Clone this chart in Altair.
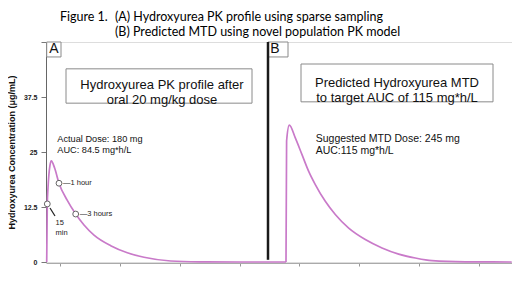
import altair as alt
import pandas as pd

# ---------------- data ----------------
# Panel A: hydroxyurea PK profile (time in h, concentration in ug/mL)
A_TIME = [0, 0.06, 0.13, 0.33, 0.46, 0.8, 1.23, 2.06, 2.9, 3.73, 4.73, 6.4, 8.06, 9.73, 12.4, 15.3, 19.3, 23.93]
A_CONC = [0, 13.2, 16.8, 22.0, 23.0, 21.3, 17.9, 14.0, 10.9, 8.4, 6.1, 3.7, 2.1, 1.07, 0.23, 0.05, 0, 0]

# Panel B: predicted profile at the MTD
B_TIME = [23.93, 23.99, 24.26, 24.86, 25.53, 26.2, 26.86, 27.86, 28.86, 30.2, 31.86, 33.53, 35.2, 36.86, 38.53, 41.86, 46.5]
B_CONC = [0, 27.5, 31.1, 28.2, 24.4, 20.6, 17.6, 13.8, 10.8, 7.7, 5.1, 3.2, 1.8, 0.9, 0.3, 0.05, 0]

# sparse samples
SAMPLE_TIME = [0.06, 1.23, 2.9]
SAMPLE_CONC = [13.2, 17.9, 10.9]
SAMPLE_LABEL = ["", "\u20141 hour", "\u20143 hours"]

Y_TICKS = [0, 12.5, 25, 37.5, 50]
X_TICKS = [1.3, 7.3, 13.3, 19.3, 25.2, 31.2, 37.2, 43.2]

PANEL_LABELS = ["A", "B"]
BOX_TITLES = ["Hydroxyurea PK profile after\noral 20 mg/kg dose",
              "Predicted Hydroxyurea MTD\nto target AUC of 115 mg*h/L"]
NOTES_A = ["Actual Dose: 180 mg", "AUC: 84.5 mg*h/L"]
NOTES_B = ["Suggested MTD Dose: 245 mg", "AUC:115 mg*h/L"]

# ---------------- chart ----------------
LINE = "#c97ac9"
FONT = "Liberation Sans"

X_DOMAIN = [-0.07, 46.53]
Y_DOMAIN = [0, 50]

xs = alt.Scale(domain=X_DOMAIN, nice=False, zero=False)
ys = alt.Scale(domain=Y_DOMAIN, nice=False)

curve = pd.DataFrame({
    "t": A_TIME + B_TIME,
    "c": A_CONC + B_CONC,
    "panel": ["A"] * len(A_TIME) + ["B"] * len(B_TIME),
})
curve["order"] = range(len(curve))

samples = pd.DataFrame({"t": SAMPLE_TIME, "c": SAMPLE_CONC, "label": SAMPLE_LABEL})

base_x = alt.X("t:Q", scale=xs, axis=alt.Axis(
    values=X_TICKS, labels=False, title=None, grid=False, tickSize=3,
    domainColor="#aaaaaa", tickColor="#999999", offset=1))
base_y = alt.Y("c:Q", scale=ys, axis=alt.Axis(
    values=Y_TICKS, grid=False, title="Hydroxyurea Concentration (\u03bcg/mL)",
    labelExpr="datum.value == 50 ? '' : toString(datum.value)",
    labelFont=FONT, labelFontSize=7, labelFontWeight="bold", labelColor="#222222",
    labelPadding=4, tickSize=5, tickColor="#777777", domainColor="#666666",
    titleFont=FONT, titleFontSize=9, titleFontWeight="bold", titleColor="#111111",
    titlePadding=7))

# boxes (annotation layout)
boxes = pd.DataFrame({
    "x": [0.0, 22.13, 1.93, 25.43],
    "x2": [1.43, 24.13, 20.53, 44.63],
    "y": [46.6, 46.6, 36.1, 36.4],
    "y2": [50.0, 50.0, 43.9, 45.0],
})
box_layer = alt.Chart(boxes).mark_rect(fill="white", stroke="#8a8a8a", strokeWidth=1).encode(
    x=alt.X("x:Q", scale=xs), x2="x2:Q", y=alt.Y("y:Q", scale=ys), y2="y2:Q")

panel_lbl = pd.DataFrame({"label": PANEL_LABELS, "x": [0.71, 22.83], "y": [48.3, 48.3]})
panel_lbl_layer = alt.Chart(panel_lbl).mark_text(
    font=FONT, fontSize=14, color="#111111", baseline="middle", align="center").encode(
    x=alt.X("x:Q", scale=xs), y=alt.Y("y:Q", scale=ys), text="label:N")

box_title = pd.DataFrame({"label": BOX_TITLES, "x": [11.53, 35.03], "y": [40.3, 40.6]})
box_title_layer = alt.Chart(box_title).mark_text(
    font=FONT, fontSize=13, color="#111111", baseline="middle", align="center",
    lineBreak="\n", lineHeight=15).encode(
    x=alt.X("x:Q", scale=xs), y=alt.Y("y:Q", scale=ys), text="label:N")

divider = pd.DataFrame({"x": [22.13], "y": [0.5], "y2": [50]})
divider_layer = alt.Chart(divider).mark_rule(color="#1a1a1a", strokeWidth=2.5).encode(
    x=alt.X("x:Q", scale=xs), y=alt.Y("y:Q", scale=ys), y2="y2:Q")

line_layer = alt.Chart(curve).mark_line(color=LINE, strokeWidth=1.7, interpolate="monotone").encode(
    x=base_x, y=base_y, detail="panel:N", order="order:Q")

pt_layer = alt.Chart(samples).mark_point(
    shape="circle", size=34, filled=False, fill="white", fillOpacity=1,
    stroke="#666666", strokeWidth=1, opacity=1).encode(
    x=alt.X("t:Q", scale=xs), y=alt.Y("c:Q", scale=ys))

pt_text = alt.Chart(samples).mark_text(
    font=FONT, fontSize=7.5, color="#222222", align="left", baseline="middle", dx=4).encode(
    x=alt.X("t:Q", scale=xs), y=alt.Y("c:Q", scale=ys), text="label:N")

leader = pd.DataFrame({"x": [0.33], "x2": [0.83], "y": [12.27], "y2": [10.45]})
leader_layer = alt.Chart(leader).mark_rule(color="#222222", strokeWidth=1.2).encode(
    x=alt.X("x:Q", scale=xs), x2="x2:Q", y=alt.Y("y:Q", scale=ys), y2="y2:Q")

min_lbl = pd.DataFrame({"label": ["15\nmin"], "x": [0.88], "y": [8.86]})
min_layer = alt.Chart(min_lbl).mark_text(
    font=FONT, fontSize=7.5, color="#222222", align="left", baseline="middle",
    lineBreak="\n", lineHeight=10).encode(
    x=alt.X("x:Q", scale=xs), y=alt.Y("y:Q", scale=ys), text="label:N")

notes = pd.DataFrame({
    "label": NOTES_A + NOTES_B,
    "x": [1.06, 1.06, 26.9, 26.9],
    "y": [27.95, 25.5, 27.9, 25.2],
    "size": [9.2, 9.2, 10.5, 10.5],
})
notes_layer = alt.Chart(notes).mark_text(
    font=FONT, color="#111111", align="left", baseline="middle").encode(
    x=alt.X("x:Q", scale=xs), y=alt.Y("y:Q", scale=ys), text="label:N",
    size=alt.Size("size:Q", scale=None, legend=None))

one = alt.Data(values=[{}])
TFONT = "Lato"
t1 = alt.Chart(one).mark_text(text="Figure 1.", font=TFONT, fontSize=12.5, align="left",
                              baseline="middle", color="#000000").encode(
    x=alt.value(14), y=alt.value(-25))
t2 = alt.Chart(one).mark_text(text="(A) Hydroxyurea PK profile using sparse sampling",
                              font=TFONT, fontSize=12.5, align="left", baseline="middle",
                              color="#000000").encode(x=alt.value(69), y=alt.value(-25))
t3 = alt.Chart(one).mark_text(text="(B) Predicted MTD using novel population PK model",
                              font=TFONT, fontSize=12.5, align="left", baseline="middle",
                              color="#000000").encode(x=alt.value(69), y=alt.value(-10))

chart = alt.layer(
    box_layer, panel_lbl_layer, box_title_layer, divider_layer,
    line_layer, leader_layer, pt_layer, pt_text, min_layer, notes_layer,
    t1, t2, t3,
).properties(
    width=466, height=220,
    autosize=alt.AutoSizeParams(type="none"),
    padding={"left": 38, "top": 34, "right": 0, "bottom": 10},
).configure_view(stroke=None).configure(background="white")

chart.save("out.html", embed_options={"renderer": "svg", "actions": False})
